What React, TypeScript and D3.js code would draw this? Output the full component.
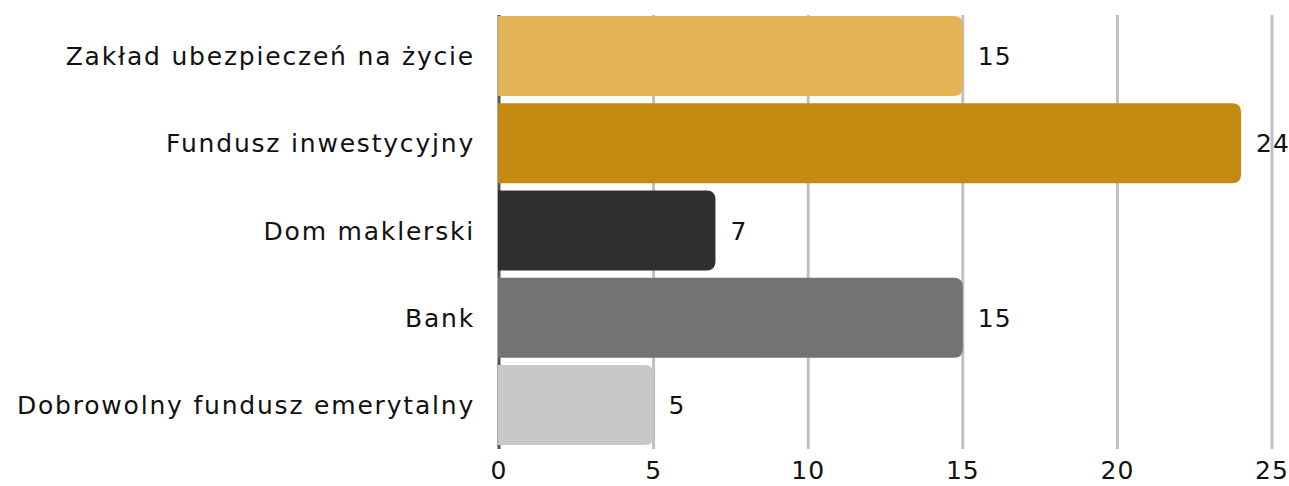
import React from "react";
import * as d3 from "d3";

const categories = [
  "Zakład ubezpieczeń na życie",
  "Fundusz inwestycyjny",
  "Dom maklerski",
  "Bank",
  "Dobrowolny fundusz emerytalny",
];
const values = [15, 24, 7, 15, 5];
const colors = ["#E3B455", "#C48A12", "#2F2F2F", "#737373", "#C8C8C8"];
const ticks = [0, 5, 10, 15, 20, 25];

const W = 1289;
const H = 486;
const FONT = "DejaVu Sans, sans-serif";

function barPath(x0: number, x1: number, y0: number, h: number, r: number) {
  const rr = Math.min(r, (x1 - x0) / 2, h / 2);
  return `M${x0},${y0}H${x1 - rr}Q${x1},${y0} ${x1},${y0 + rr}V${y0 + h - rr}Q${x1},${y0 + h} ${x1 - rr},${y0 + h}H${x0}Z`;
}

export default function App() {
  const x = d3.scaleLinear().domain([0, 25]).range([499, 1272]);
  const y = d3.scaleBand<string>().domain(categories).range([12.4, 448.6]).paddingInner(0.083).paddingOuter(0.042);
  return (
    <svg width={W} height={H} style={{ position: "absolute", left: 0, top: 0 }}>
      {ticks.map((t) => (
        <line key={"g" + t} x1={x(t)} x2={x(t)} y1={15} y2={449} stroke={t === 0 ? "#555" : "#c0c0c0"} strokeWidth={3} />
      ))}
      {categories.map((c, i) => {
        const y0 = y(c)!;
        const h = y.bandwidth();
        return (
          <g key={c}>
            <path d={barPath(x(0) - 1, x(values[i]), y0, h, 9)} fill={colors[i]} />
            <text x={x(values[i]) + 15} y={y0 + h / 2} dy="0.36em" fontSize={25} letterSpacing={1} fontFamily={FONT} fill="#111">
              {values[i]}
            </text>
            <text x={475} y={y0 + h / 2} dy="0.36em" textAnchor="end" fontSize={25} letterSpacing={1.8} fontFamily={FONT} fill="#111">
              {c}
            </text>
          </g>
        );
      })}
      {ticks.map((t) => (
        <text key={"t" + t} x={x(t)} y={479} textAnchor="middle" fontSize={25} letterSpacing={1} fontFamily={FONT} fill="#111">
          {t}
        </text>
      ))}
    </svg>
  );
}
